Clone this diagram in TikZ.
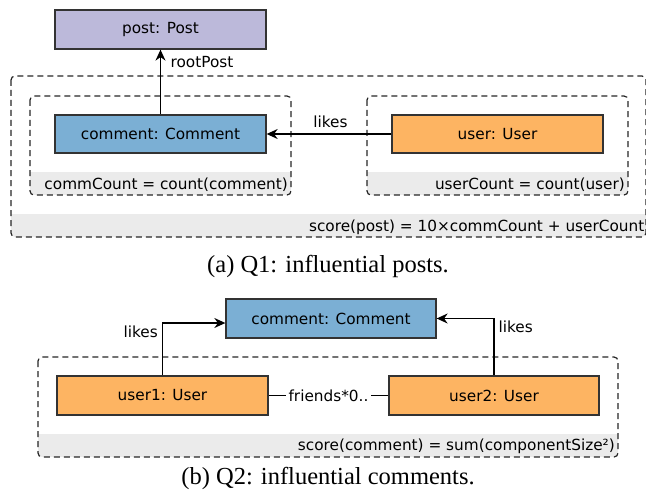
\documentclass[tikz,border=0pt]{standalone}
\usepackage{fontspec}
\setmainfont{Liberation Serif}
\setsansfont{DejaVu Sans}
\usepackage{tikz}
\usetikzlibrary{arrows.meta}

\definecolor{postfill}{HTML}{BCB9DA}
\definecolor{commfill}{HTML}{7BAFD4}
\definecolor{userfill}{HTML}{FDB462}
\definecolor{bandfill}{HTML}{EBEBEB}
\definecolor{boxline}{HTML}{333333}

\begin{document}
\begin{tikzpicture}[x=1pt,y=-1pt,line width=1.3pt,
    every node/.style={font=\sffamily\fontsize{15.3}{18}\selectfont},
    entity/.style={draw=boxline,rectangle,minimum width=211pt,minimum height=38pt,inner sep=0pt},
    group/.style={draw=black!85,dash pattern=on 6pt off 4pt,line width=1.2pt,rounded corners=4pt},
    lbl/.style={inner sep=0pt},
    conn/.style={-{Stealth[length=11pt,width=10pt]}},
    caption/.style={font=\rmfamily\fontsize{24.5}{28}\selectfont,inner sep=0pt,anchor=base}]
  \useasboundingbox (0,0) rectangle (646,495);

  % (a) influential posts
  \begin{scope}
    \clip[rounded corners=4pt] (11,76) rectangle (646,237);
    \fill[bandfill] (11,214) rectangle (646,237);
  \end{scope}
  \begin{scope}
    \clip[rounded corners=4pt] (30,96) rectangle (291,195);
    \fill[bandfill] (30,172) rectangle (291,195);
  \end{scope}
  \begin{scope}
    \clip[rounded corners=4pt] (367,96) rectangle (628,195);
    \fill[bandfill] (367,172) rectangle (628,195);
  \end{scope}
  \draw[group] (11,76) rectangle (646,237);
  \draw[group] (30,96) rectangle (291,195);
  \draw[group] (367,96) rectangle (628,195);

  \node[entity,fill=postfill,minimum height=39pt] (post) at (160.5,29.5) {post: Post};
  \node[entity,fill=commfill] (comment) at (160.5,134) {comment: Comment};
  \node[entity,fill=userfill] (user) at (497.5,134) {user: User};

  \draw[conn] (comment.north) -- node[lbl,anchor=base west,pos=0.727,xshift=9.5pt] {rootPost} (post.south);
  \draw[conn] (user.west) -- node[lbl,anchor=base,pos=0.488,yshift=6pt] {likes} (comment.east);

  \node[lbl,anchor=base east] (commcount) at (288.5,189) {commCount = count(comment)};
  \node[lbl,anchor=base east] (usercount) at (625.5,189) {userCount = count(user)};
  \node[lbl,anchor=base east] (score1) at (645,231) {score(post) = 10×commCount + userCount};

  \node[caption] (capa) at (328,272) {(a) Q1: influential posts.};

  % (b) influential comments
  \begin{scope}
    \clip[rounded corners=4pt] (38,357) rectangle (618,457);
    \fill[bandfill] (38,434) rectangle (618,457);
  \end{scope}
  \draw[group] (38,357) rectangle (618,457);

  \node[entity,fill=commfill,minimum width=210pt,minimum height=39pt] (comment2) at (331,318.5) {comment: Comment};
  \node[entity,fill=userfill,minimum height=39pt] (user1) at (162.5,395.5) {user1: User};
  \node[entity,fill=userfill,minimum width=210pt,minimum height=39pt] (user2) at (494,395.5) {user2: User};

  \draw[conn] (user1.north) |- node[lbl,anchor=base east,pos=0.358,xshift=-4pt] {likes} ([yshift=-4.5pt]comment2.west);
  \draw[conn] (user2.north) |- node[lbl,anchor=base west,pos=0.377,xshift=4pt] {likes} (comment2.east);
  \draw (user1.east) -- node[fill=white,inner sep=3pt] (friends) {friends*0..} (user2.west);

  \node[lbl,anchor=base east] (score2) at (615.5,450) {score(comment) = sum(componentSize²)};

  \node[caption] (capb) at (328,484) {(b) Q2: influential comments.};
\end{tikzpicture}
\end{document}
